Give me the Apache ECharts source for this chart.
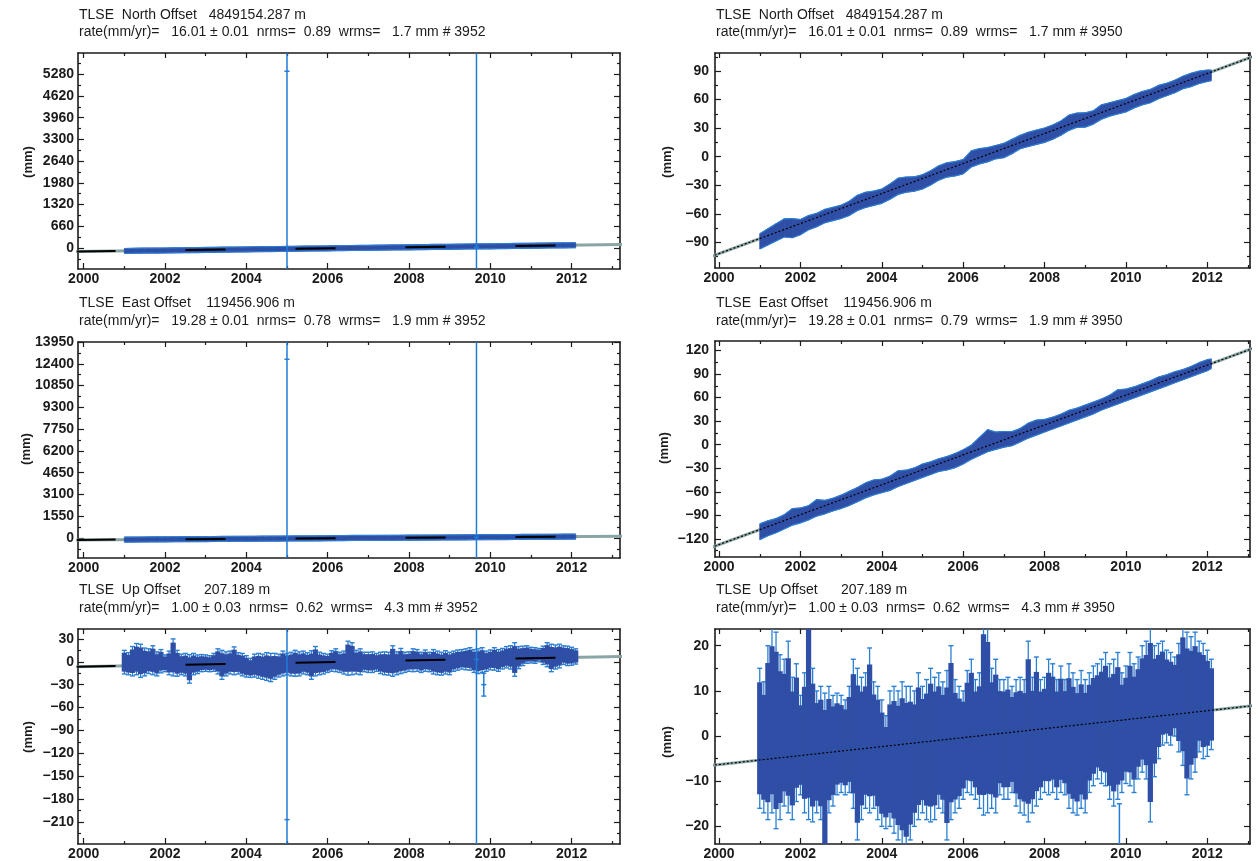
<!DOCTYPE html>
<html>
<head>
<meta charset="utf-8">
<script src="https://cdn.jsdelivr.net/npm/echarts@6/dist/echarts.min.js"></script>
<style>html,body{margin:0;padding:0;background:#fff}#c{width:1258px;height:861px}</style>
</head>
<body>
<div id="c"></div>
<script>
// ---------------- DATA ----------------
const xMajor = [2000, 2002, 2004, 2006, 2008, 2010, 2012];
const xMinor = [2001, 2003, 2005, 2007, 2009, 2011, 2013];

const nlMajor = [0, 660, 1320, 1980, 2640, 3300, 3960, 4620, 5280];
const nlMinor = [-330, 330, 990, 1650, 2310, 2970, 3630, 4290, 4950, 5610];
const elMajor = [0, 1550, 3100, 4650, 6200, 7750, 9300, 10850, 12400, 13950];
const elMinor = [-775, 775, 2325, 3875, 5425, 6975, 8525, 10075, 11625, 13175];
const ulMajor = [-210, -180, -150, -120, -90, -60, -30, 0, 30];
const ulMinor = [-225, -195, -165, -135, -105, -75, -45, -15, 15];
const nrMajor = [-90, -60, -30, 0, 30, 60, 90];
const nrMinor = [-105, -75, -45, -15, 15, 45, 75, 105];
const erMajor = [-120, -90, -60, -30, 0, 30, 60, 90, 120];
const erMinor = [-135, -105, -75, -45, -15, 15, 45, 75, 105];
const urMajor = [-20, -10, 0, 10, 20];
const urMinor = [-15, -5, 5, 15];

// North / East samples (decimal year) with upper / lower extent of the plotted cloud (mm)
const yearsNE = [2001.0,2001.2,2001.4,2001.6,2001.8,2002.0,2002.2,2002.4,2002.6,2002.8,
  2003.0,2003.2,2003.4,2003.6,2003.8,2004.0,2004.2,2004.4,2004.6,2004.8,
  2005.0,2005.2,2005.4,2005.6,2005.8,2006.0,2006.2,2006.4,2006.6,2006.8,
  2007.0,2007.2,2007.4,2007.6,2007.8,2008.0,2008.2,2008.4,2008.6,2008.8,
  2009.0,2009.2,2009.4,2009.6,2009.8,2010.0,2010.2,2010.4,2010.6,2010.8,
  2011.0,2011.2,2011.4,2011.6,2011.8,2012.0,2012.1];
const northHi = [-81,-75.8,-70.6,-65.4,-65.2,-66,-61.8,-59.6,-55.4,-53.2,
  -51,-46.8,-40.6,-37.4,-36.2,-34,-28.8,-22.6,-21.4,-21.2,
  -19,-14.8,-9.6,-6.4,-5.2,-3,6.2,8.4,9.6,11.8,
  14,18.2,22.4,25.7,27.9,30.1,33.3,37.5,43.7,45.9,
  46.1,48.3,54.5,56.7,58.9,61.1,65.3,68.5,70.7,74.9,
  77.1,80.3,84.5,87.7,89.9,91,91];
const northLo = [-97,-92.8,-88.6,-84.4,-85.2,-82,-76.8,-73.6,-69.4,-67.2,
  -65,-61.8,-56.6,-53.4,-51.2,-49,-44.8,-39.6,-37.4,-36.2,
  -34,-29.8,-24.6,-21.4,-20.2,-18,-10.8,-7.6,-5.4,-2.2,
  -1,3.2,8.4,10.7,12.9,15.1,18.3,22.5,27.7,30.9,
  31.1,34.3,39.5,42.7,44.9,47.1,51.3,54.5,56.7,60.9,
  64.1,67.3,71.5,73.7,76.9,79,80];
const eastHi = [-100.9,-97,-94.1,-89.3,-81.4,-80.6,-77.7,-69.9,-71,-68.2,
  -64.3,-59.4,-54.6,-48.7,-44.9,-44,-40.2,-33.3,-32.5,-29.6,
  -24.7,-21.9,-18,-15.2,-11.3,-6.5,-0.6,9.3,19.1,16,
  16.8,16.7,20.5,27.4,31.2,32.1,35,38.8,43.7,46.5,
  50.4,54.2,58.1,62.9,69.8,70.7,73.5,77.4,81.2,86.1,
  88.9,92.8,95.6,99.5,104.4,108.2,109.1];
const eastLo = [-120.9,-116,-112.1,-107.3,-102.4,-99.6,-95.7,-90.9,-88,-84.2,
  -81.3,-77.4,-72.6,-67.7,-63.9,-61,-58.2,-53.3,-49.5,-45.6,
  -41.7,-37.9,-34,-32.2,-29.3,-24.5,-18.6,-13.7,-8.9,-6,
  -3.2,-1.3,3.5,8.4,12.2,16.1,20,23.8,27.7,31.5,
  35.4,39.2,44.1,47.9,51.8,55.7,59.5,63.4,67.2,71.1,
  74.9,78.8,82.6,86.5,90.4,94.2,97.1];

// Up samples with upper / lower error-bar extents (mm)
const yearsUp = [2001.0,2001.1,2001.2,2001.3,2001.4,2001.5,2001.6,2001.7,2001.8,2001.9,
  2002.0,2002.1,2002.2,2002.3,2002.4,2002.5,2002.6,2002.7,2002.8,2002.9,
  2003.0,2003.1,2003.2,2003.3,2003.4,2003.5,2003.6,2003.7,2003.8,2003.9,
  2004.0,2004.1,2004.2,2004.3,2004.4,2004.5,2004.6,2004.7,2004.8,2004.9,
  2005.0,2005.1,2005.2,2005.3,2005.4,2005.5,2005.6,2005.7,2005.8,2005.9,
  2006.0,2006.1,2006.2,2006.3,2006.4,2006.5,2006.6,2006.7,2006.8,2006.9,
  2007.0,2007.1,2007.2,2007.3,2007.4,2007.5,2007.6,2007.7,2007.8,2007.9,
  2008.0,2008.1,2008.2,2008.3,2008.4,2008.5,2008.6,2008.7,2008.8,2008.9,
  2009.0,2009.1,2009.2,2009.3,2009.4,2009.5,2009.6,2009.7,2009.8,2009.9,
  2010.0,2010.1,2010.2,2010.3,2010.4,2010.5,2010.6,2010.7,2010.8,2010.9,
  2011.0,2011.1,2011.2,2011.3,2011.4,2011.5,2011.6,2011.7,2011.8,2011.9,
  2012.0,2012.1];
const upHi = [15,12,20,24,23,18,17,21,13,16,
  9,14,30,15,10,11,9.5,11,9,9.5,
  9,8,11,17,15,13,14,19.5,12,11,
  8,4.5,10,11,10,12,11,11,10,14,
  11,12.5,15,13,14,12,14.5,20,12.5,11,
  10,14.5,17,12.5,14,27,25,15,17,12.5,
  12.5,13,11,12.5,13,12.5,21,13,17.5,12.5,
  13,17,16,12.5,15.5,12.5,16,14,12.5,14.5,
  12.5,14,15.5,16,17,18.5,16,17,18.5,14,
  15.5,18.5,16,17.5,20,21,25,20,20.5,21,
  19,18.5,17.5,20.5,25,23,22,23,21,20.5,
  19,17];
const upLo = [-16,-17,-18.5,-17,-20.5,-18.5,-15.5,-17,-18.5,-14.5,
  -13,-17,-18.5,-19,-17,-18.5,-28,-17,-15.5,-13,
  -12.5,-13,-12.5,-16,-23,-18.5,-16,-17,-16,-18.5,
  -20,-20.5,-20,-21.5,-23,-24.5,-26,-23,-20,-18.5,
  -17,-18.5,-19,-18.5,-16,-17,-23,-18.5,-17,-16,
  -14,-12.5,-13,-14,-16,-17.5,-17,-16,-17,-13,
  -14,-14,-12.5,-15.5,-17,-17.5,-19,-17,-15.5,-14,
  -12.5,-13,-12.5,-14,-12.5,-13,-16,-17,-17.5,-16,
  -17,-12.5,-11,-9.5,-10.5,-11,-14,-15.5,-14,-12.5,
  -10.5,-11,-12.5,-9.5,-8,-9.5,-19,-9,-5,-2,
  -1.5,-2,0,-3.5,-6.5,-13,-9.5,-8,-3.5,-5,
  -4.5,-3];
// single long error bar in the Up series [year, value, sigma]
const upExtraYear = [2009.84];
const upExtraVal = [-30];
const upExtraErr = [15];

// two outliers (only in the left-hand plots, 3952 points)
const outYears = [2005.0, 2009.66];
const northOutVal = [5370, 30];
const northOutErr = [8000, 8000];
const eastOutVal = [12720, 60];
const eastOutErr = [16000, 16000];
const upOutVal = [-207, 3];
const upOutErr = [300, 300];

// fitted lines (end points)
const northFit = [[1999.8, -105], [2013.3, 108]];
const eastFit = [[1999.8, -131], [2013.3, 126]];
const upFit = [[1999.8, -6.5], [2013.3, 6.9]];

const titles = [
  ['TLSE  North Offset   4849154.287 m', 'rate(mm/yr)=   16.01 \u00b1 0.01  nrms=  0.89  wrms=   1.7 mm # 3952'],
  ['TLSE  North Offset   4849154.287 m', 'rate(mm/yr)=   16.01 \u00b1 0.01  nrms=  0.89  wrms=   1.7 mm # 3950'],
  ['TLSE  East Offset    119456.906 m', 'rate(mm/yr)=   19.28 \u00b1 0.01  nrms=  0.78  wrms=   1.9 mm # 3952'],
  ['TLSE  East Offset    119456.906 m', 'rate(mm/yr)=   19.28 \u00b1 0.01  nrms=  0.79  wrms=   1.9 mm # 3950'],
  ['TLSE  Up Offset      207.189 m', 'rate(mm/yr)=   1.00 \u00b1 0.03  nrms=  0.62  wrms=   4.3 mm # 3952'],
  ['TLSE  Up Offset      207.189 m', 'rate(mm/yr)=   1.00 \u00b1 0.03  nrms=  0.62  wrms=   4.3 mm # 3950']
];
const yName = '(mm)';

// ---------------- STYLE / LAYOUT ----------------
const FONT = '"Liberation Sans", Arial, sans-serif';
const INK = '#1b1b1b';
const BAND = '#2f4ea5';
const EDGE = '#2c80d4';
const OUTC = '#1f7cd9';
const FITC = '#8aa5a5';

const panels = [
  {grid:{left:78, top:53, width:542, height:216}, x:[1999.86, 2013.19], y:[-636, 5925], yMajor:nlMajor, yMinor:nlMinor,
   kind:'band', t:yearsNE, hi:northHi, lo:northLo, minPx:5, fit:northFit, out:[northOutVal, northOutErr], tx:79, ty:[15,32], mm:[28,162], lm:4},
  {grid:{left:715, top:53, width:535, height:215}, x:[1999.9, 2013.05], y:[-117, 109], yMajor:nrMajor, yMinor:nrMinor,
   kind:'band', t:yearsNE, hi:northHi, lo:northLo, minPx:0, fit:northFit, out:null, tx:716, ty:[15,32], mm:[667,162], lm:6},
  {grid:{left:78, top:342, width:542, height:216}, x:[1999.86, 2013.19], y:[-1420, 13950], yMajor:elMajor, yMinor:elMinor,
   kind:'band', t:yearsNE, hi:eastHi, lo:eastLo, minPx:5, fit:eastFit, out:[eastOutVal, eastOutErr], tx:79, ty:[303,321], mm:[26,449], lm:4},
  {grid:{left:715, top:341, width:535, height:216}, x:[1999.9, 2013.05], y:[-143, 132], yMajor:erMajor, yMinor:erMinor,
   kind:'band', t:yearsNE, hi:eastHi, lo:eastLo, minPx:0, fit:eastFit, out:null, tx:716, ty:[303,321], mm:[664,448], lm:6},
  {grid:{left:78, top:629, width:542, height:219}, x:[1999.86, 2013.19], y:[-239, 43], yMajor:ulMajor, yMinor:ulMinor,
   kind:'bars', t:yearsUp, hi:upHi, lo:upLo, minPx:0, fit:upFit, out:[upOutVal, upOutErr], tx:79, ty:[590,608], mm:[28,737], lm:4},
  {grid:{left:715, top:629, width:535, height:216}, x:[1999.9, 2013.05], y:[-23.9, 23.7], yMajor:urMajor, yMinor:urMinor,
   kind:'bars', t:yearsUp, hi:upHi, lo:upLo, minPx:0, fit:upFit, out:null, tx:716, ty:[590,608], mm:[667,742], lm:6}
];

function clampY(y, cs) { return Math.max(cs.y, Math.min(cs.y + cs.height, y)); }

function bandRender(t, hi, lo, minPx) {
  return function (params, api) {
    const i = params.dataIndex;
    if (i >= t.length - 1) return null;
    const cs = params.coordSys;
    const ends = function (j) {
      const a = api.coord([t[j], hi[j]]), b = api.coord([t[j], lo[j]]);
      let top = a[1], bot = b[1];
      if (bot - top < minPx) { const c = (top + bot) / 2; top = c - minPx / 2; bot = c + minPx / 2; }
      return [a[0], clampY(top, cs), clampY(bot, cs)];
    };
    const p = ends(i), q = ends(i + 1);
    return {type:'group', children:[
      {type:'polygon', shape:{points:[[p[0],p[1]],[q[0],q[1]],[q[0],q[2]],[p[0],p[2]]]}, style:{fill:BAND, stroke:BAND, lineWidth:0.8}},
      {type:'line', shape:{x1:p[0], y1:p[1], x2:q[0], y2:q[1]}, style:{stroke:EDGE, lineWidth:1.2}},
      {type:'line', shape:{x1:p[0], y1:p[2], x2:q[0], y2:q[2]}, style:{stroke:EDGE, lineWidth:1.2}}
    ]};
  };
}

function barsRender(t, hi, lo) {
  return function (params, api) {
    const i = params.dataIndex, cs = params.coordSys;
    const a = api.coord([t[i], hi[i]]), b = api.coord([t[i], lo[i]]);
    const w = Math.abs(api.coord([t[i] + 0.1, 0])[0] - a[0]);
    const top = clampY(a[1], cs), bot = clampY(b[1], cs);
    const h = b[1] - a[1];
    const bt = clampY(a[1] + h * 0.1, cs), bb = clampY(b[1] - h * 0.1, cs);
    const ch = [
      {type:'line', shape:{x1:a[0], y1:top, x2:a[0], y2:bot}, style:{stroke:EDGE, lineWidth:1.3}},
      {type:'rect', shape:{x:a[0] - w / 2 - 0.6, y:bt, width:w + 1.2, height:bb - bt}, style:{fill:BAND}}
    ];
    if (a[1] >= cs.y) ch.push({type:'line', shape:{x1:a[0] - 2.5, y1:a[1], x2:a[0] + 2.5, y2:a[1]}, style:{stroke:EDGE, lineWidth:1.4}});
    if (b[1] <= cs.y + cs.height) ch.push({type:'line', shape:{x1:b[0] - 2.5, y1:b[1], x2:b[0] + 2.5, y2:b[1]}, style:{stroke:EDGE, lineWidth:1.4}});
    return {type:'group', children:ch};
  };
}

function errRender(t, v, e) {
  return function (params, api) {
    const i = params.dataIndex, cs = params.coordSys;
    const m = api.coord([t[i], v[i]]);
    const a = api.coord([t[i], v[i] + e[i]]), b = api.coord([t[i], v[i] - e[i]]);
    const ch = [{type:'line', shape:{x1:m[0], y1:clampY(a[1], cs), x2:m[0], y2:clampY(b[1], cs)}, style:{stroke:OUTC, lineWidth:1.5}}];
    if (m[1] >= cs.y && m[1] <= cs.y + cs.height) {
      ch.push({type:'line', shape:{x1:m[0] - 2.5, y1:m[1], x2:m[0] + 2.5, y2:m[1]}, style:{stroke:OUTC, lineWidth:1.5}});
    }
    if (a[1] >= cs.y) ch.push({type:'line', shape:{x1:m[0] - 2.5, y1:a[1], x2:m[0] + 2.5, y2:a[1]}, style:{stroke:OUTC, lineWidth:1.4}});
    if (b[1] <= cs.y + cs.height) ch.push({type:'line', shape:{x1:m[0] - 2.5, y1:b[1], x2:m[0] + 2.5, y2:b[1]}, style:{stroke:OUTC, lineWidth:1.4}});
    return {type:'group', children:ch};
  };
}

const grids = [], xAxes = [], yAxes = [], series = [], graphics = [];
const lineStyle = {color:INK, width:1.6};
const tickStyle = {color:INK, width:1.2};
const labelStyle = {color:INK, fontFamily:FONT, fontSize:14, fontWeight:'bold'};

panels.forEach(function (p, k) {
  grids.push(Object.assign({show:false}, p.grid));
  const cx = {gridIndex:k, type:'value', min:p.x[0], max:p.x[1], splitLine:{show:false}, silent:true};
  const cy = {gridIndex:k, type:'value', min:p.y[0], max:p.y[1], splitLine:{show:false}, silent:true};
  xAxes.push(Object.assign({}, cx, {position:'bottom', offset:0, axisLine:{show:true, onZero:false, lineStyle:lineStyle},
    axisTick:{show:true, inside:true, length:6, customValues:xMajor, lineStyle:tickStyle},
    axisLabel:Object.assign({show:true, customValues:xMajor, margin:3, formatter:function (v) { return String(v); }}, labelStyle)}));
  xAxes.push(Object.assign({}, cx, {position:'bottom', offset:0, axisLine:{show:false, onZero:false},
    axisTick:{show:true, inside:true, length:3, customValues:xMinor, lineStyle:tickStyle}, axisLabel:{show:false}}));
  xAxes.push(Object.assign({}, cx, {position:'top', offset:0, axisLine:{show:true, onZero:false, lineStyle:lineStyle},
    axisTick:{show:true, inside:true, length:5, customValues:xMajor, lineStyle:tickStyle}, axisLabel:{show:false}}));
  xAxes.push(Object.assign({}, cx, {position:'top', offset:0, axisLine:{show:false, onZero:false},
    axisTick:{show:true, inside:true, length:3, customValues:xMinor, lineStyle:tickStyle}, axisLabel:{show:false}}));

  yAxes.push(Object.assign({}, cy, {position:'left', offset:0, axisLine:{show:true, onZero:false, lineStyle:lineStyle},
    axisTick:{show:true, inside:true, length:6, customValues:p.yMajor, lineStyle:tickStyle},
    axisLabel:Object.assign({show:true, customValues:p.yMajor, margin:p.lm, formatter:function (v) { return String(v).replace('-', '\u2212'); }}, labelStyle)}));
  yAxes.push(Object.assign({}, cy, {position:'left', offset:0, axisLine:{show:false, onZero:false},
    axisTick:{show:true, inside:true, length:3, customValues:p.yMinor, lineStyle:tickStyle}, axisLabel:{show:false}}));
  yAxes.push(Object.assign({}, cy, {position:'right', offset:0, axisLine:{show:true, onZero:false, lineStyle:lineStyle},
    axisTick:{show:true, inside:true, length:6, customValues:p.yMajor, lineStyle:tickStyle}, axisLabel:{show:false}}));
  yAxes.push(Object.assign({}, cy, {position:'right', offset:0, axisLine:{show:false, onZero:false},
    axisTick:{show:true, inside:true, length:3, customValues:p.yMinor, lineStyle:tickStyle}, axisLabel:{show:false}}));

  const xi = 4 * k, yi = 4 * k;
  const left = (k % 2 === 0);

  series.push({type:'line', xAxisIndex:xi, yAxisIndex:yi, data:p.fit, showSymbol:false, silent:true, z:1,
    lineStyle:{color:FITC, width:3}});

  series.push({type:'custom', xAxisIndex:xi, yAxisIndex:yi, silent:true, z:2, clip:true,
    data:p.t.map(function (x, i) { return [x, p.hi[i], p.lo[i]]; }),
    encode:{x:0, y:[1, 2]},
    renderItem: p.kind === 'band' ? bandRender(p.t, p.hi, p.lo, p.minPx) : barsRender(p.t, p.hi, p.lo)});

  if (p.kind === 'bars') {
    series.push({type:'custom', xAxisIndex:xi, yAxisIndex:yi, silent:true, z:3, clip:true,
      data:upExtraYear.map(function (x, i) { return [x, upExtraVal[i], upExtraErr[i]]; }),
      encode:{x:0, y:1},
      renderItem: errRender(upExtraYear, upExtraVal, upExtraErr)});
  }
  if (p.out) {
    series.push({type:'custom', xAxisIndex:xi, yAxisIndex:yi, silent:true, z:3, clip:true,
      data:outYears.map(function (x, i) { return [x, p.out[0][i], p.out[1][i]]; }),
      encode:{x:0, y:1},
      renderItem: errRender(outYears, p.out[0], p.out[1])});
  }

  series.push({type:'line', xAxisIndex:xi, yAxisIndex:yi, data:p.fit, showSymbol:false, silent:true, z:4,
    lineStyle: left ? {color:'#000', width:2, type:[40, 70]} : {color:'#000', width:1.2, type:[2, 2]}});

  graphics.push({type:'text', x:p.tx, y:p.ty[0], silent:true,
    style:{text:titles[k][0], fontFamily:FONT, fontSize:14, fill:INK, verticalAlign:'middle'}});
  graphics.push({type:'text', x:p.tx, y:p.ty[1], silent:true,
    style:{text:titles[k][1], fontFamily:FONT, fontSize:14, fill:INK, verticalAlign:'middle'}});
  graphics.push({type:'text', x:p.mm[0], y:p.mm[1], rotation:Math.PI / 2, silent:true,
    style:{text:yName, fontFamily:FONT, fontSize:13, fontWeight:'bold', fill:INK, align:'center', verticalAlign:'middle'}});
});

const chart = echarts.init(document.getElementById('c'), null, {renderer:'canvas'});
chart.setOption({
  animation:false,
  backgroundColor:'#ffffff',
  grid:grids,
  xAxis:xAxes,
  yAxis:yAxes,
  series:series,
  graphic:graphics
});
</script>
</body>
</html>
